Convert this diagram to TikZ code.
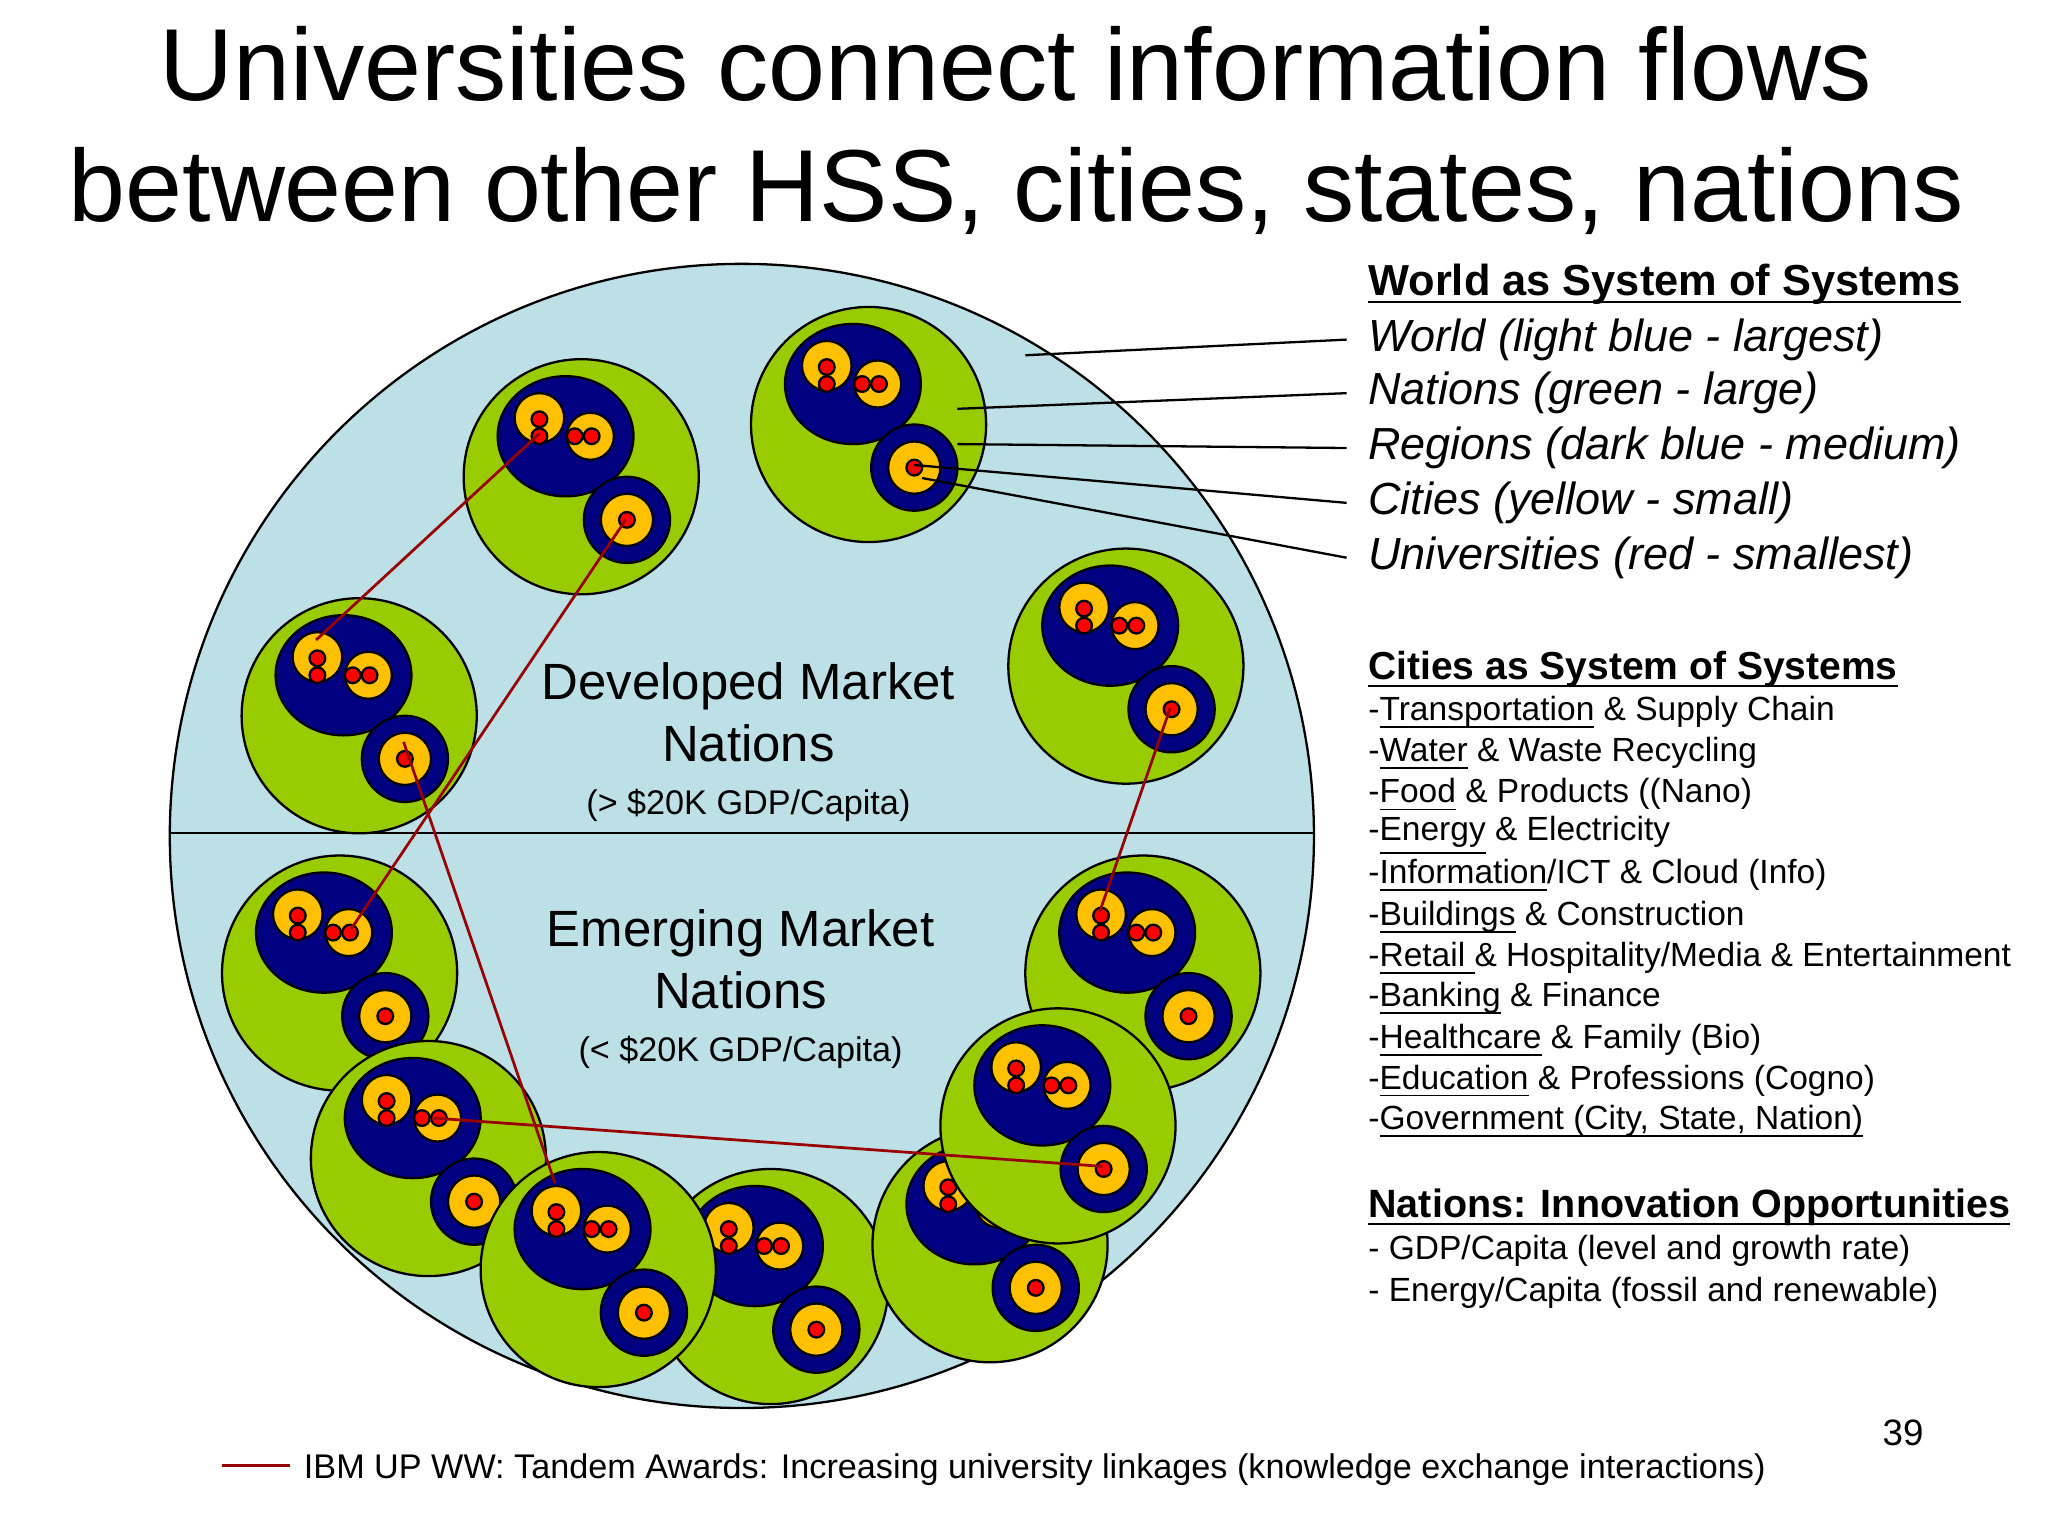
\documentclass[tikz,border=0pt]{standalone}
\usepackage{fontspec}
\setmainfont{Liberation Sans}
\definecolor{world}{HTML}{BCE0E6}
\definecolor{nat}{HTML}{99CC00}
\definecolor{reg}{HTML}{000080}
\definecolor{cty}{HTML}{FFC000}
\definecolor{uni}{HTML}{FF0000}
\definecolor{link}{HTML}{990000}
\newcommand\ulx[1]{\underline{\raisebox{0pt}[\height][0pt]{#1}}}
\begin{document}
\begin{tikzpicture}[x=0.1mm,y=-0.1mm,
  bnd/.style={draw=black,line width=0.5pt},
  lnk/.style={draw=link,line width=0.6pt},
  lead/.style={draw=black,line width=0.5pt},
  rt/.style={anchor=west,inner sep=0pt},
  nation/.pic={
    \fill[nat,bnd] (0,0) circle (90);
    \fill[reg,bnd] (-12,-31) ellipse (52 and 46);
    \fill[cty,bnd] (-32,-45) circle (19);
    \fill[cty,bnd] (7,-31) circle (18);
    \fill[uni,bnd] (-32,-44) circle (6);
    \fill[uni,bnd] (-32,-31) circle (6);
    \fill[uni,bnd] (-5,-31) circle (6);
    \fill[uni,bnd] (8,-31) circle (6);
    \fill[reg,bnd] (35,33) circle (33);
    \fill[cty,bnd] (35,33) circle (20);
    \fill[uni,bnd] (35,33) circle (6);
  }]
\useasboundingbox (0,0) rectangle (1568,1176);
\node[align=center,font=\fontsize{22.3}{26.5}\selectfont] (title) at (778,100) {Universities connect information flows\\between other HSS, cities, states, nations};
\fill[world,bnd] (568,640) circle (438);
\draw[bnd] (130,638) -- (1006,638);
\node[align=center,font=\fontsize{11.1}{13.5}\selectfont] (dev) at (573,568) {Developed Market\\Nations\\[-2pt]{\fontsize{7.45}{8}\selectfont(> \$20K GDP/Capita)}};
\node[align=center,font=\fontsize{11.1}{13.5}\selectfont] (emg) at (567,757) {Emerging Market\\Nations\\[-2pt]{\fontsize{7.45}{8}\selectfont(< \$20K GDP/Capita)}};
\pic at (445,365) {nation};
\pic at (665,325) {nation};
\pic at (275,548) {nation};
\pic at (862,510) {nation};
\pic at (260,745) {nation};
\pic at (875,745) {nation};
\pic at (590,985) {nation};
\pic at (328,887) {nation};
\pic at (458,972) {nation};
\pic at (758,953) {nation};
\pic at (810,862) {nation};
\coordinate (a1) at (413,332); \coordinate (a2) at (242,490);
\coordinate (b1) at (479,398); \coordinate (b2) at (269,711);
\coordinate (c1) at (309,568); \coordinate (c2) at (425,906);
\coordinate (d1) at (896,542); \coordinate (d2) at (842,698);
\coordinate (e1) at (332,856); \coordinate (e2) at (844,893);
\draw[lnk] (a1) -- (a2); \draw[lnk] (b1) -- (b2); \draw[lnk] (c1) -- (c2);
\draw[lnk] (d1) -- (d2); \draw[lnk] (e1) -- (e2);
\begin{scope}[font=\fontsize{9.8}{11}\selectfont]
\node[rt,font=\fontsize{9.45}{11}\selectfont] (h1) at (1047,218) {\textbf{\ulx{World as System of Systems}}};
\node[rt] (w1) at (1047,260) {\itshape World (light blue - largest)};
\node[rt] (w2) at (1047,301) {\itshape Nations (green - large)};
\node[rt] (w3) at (1047,343) {\itshape Regions (dark blue - medium)};
\node[rt] (w4) at (1047,385) {\itshape Cities (yellow - small)};
\node[rt] (w5) at (1047,427) {\itshape Universities (red - smallest)};
\end{scope}
\coordinate (p1) at (785,272); \coordinate (p2) at (733,313); \coordinate (p3) at (733,340);
\coordinate (p4) at (700,356); \coordinate (p5) at (706,366);
\draw[lead] (p1) -- ([xshift=-1.6mm]w1.west); \draw[lead] (p2) -- ([xshift=-1.6mm]w2.west); \draw[lead] (p3) -- ([xshift=-1.6mm]w3.west);
\draw[lead] (p4) -- ([xshift=-1.6mm]w4.west); \draw[lead] (p5) -- ([xshift=-1.6mm]w5.west);
\node[rt,font=\fontsize{8.5}{10}\selectfont] (h2) at (1047,513) {\textbf{\ulx{Cities as System of Systems}}};
\begin{scope}[font=\fontsize{7.3}{9}\selectfont]
\node[rt] (l1) at (1047,546) {-\ulx{Transportation} \& Supply Chain};
\node[rt] (l2) at (1047,577) {-\ulx{Water} \& Waste Recycling};
\node[rt] (l3) at (1047,609) {-\ulx{Food} \& Products ((Nano)};
\node[rt] (l4) at (1047,640) {-\underline{Energy} \& Electricity};
\node[rt] (l5) at (1047,671) {-\ulx{Information}/ICT \& Cloud (Info)};
\node[rt] (l6) at (1047,703) {-\ulx{Buildings} \& Construction};
\node[rt] (l7) at (1047,734) {-\ulx{Retail }\& Hospitality/Media \& Entertainment};
\node[rt] (l8) at (1047,765) {-\ulx{Banking} \& Finance};
\node[rt] (l9) at (1047,797) {-\ulx{Healthcare} \& Family (Bio)};
\node[rt] (l10) at (1047,828) {-\ulx{Education} \& Professions (Cogno)};
\node[rt] (l11) at (1047,859) {-\ulx{Government (City, State, Nation)}};
\node[rt] (n1) at (1047,958) {- GDP/Capita (level and growth rate)};
\node[rt] (n2) at (1047,990) {- Energy/Capita (fossil and renewable)};
\node[rt,font=\fontsize{7.45}{9}\selectfont] (foot) at (232,1125) {IBM UP WW: Tandem Awards: Increasing university linkages (knowledge exchange interactions)};
\node[font=\fontsize{8}{9}\selectfont] (pg) at (1457,1097) {39};
\end{scope}
\node[rt,font=\fontsize{8.6}{10}\selectfont] (h3) at (1047,925) {\textbf{\ulx{Nations: Innovation Opportunities}}};
\coordinate (k1) at (170,1122); \coordinate (k2) at (222,1122);
\draw[lnk] (k1) -- (k2);
\end{tikzpicture}
\end{document}
